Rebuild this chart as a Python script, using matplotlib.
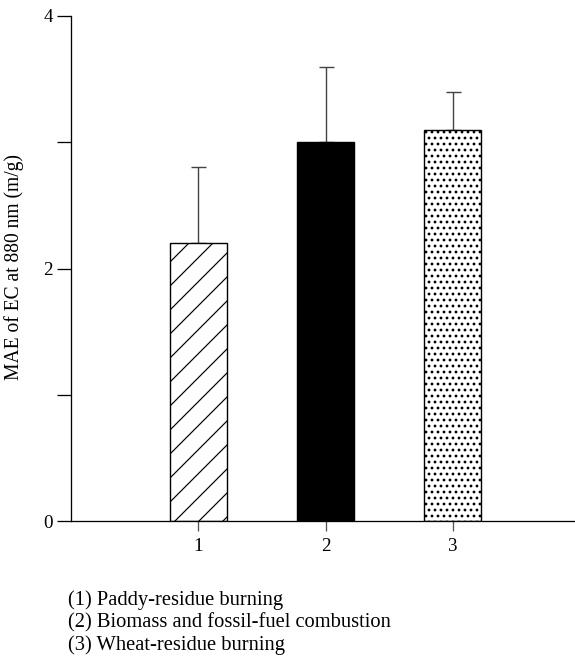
import matplotlib
matplotlib.use("Agg")
import matplotlib.pyplot as plt

categories = [1, 2, 3]
values = [2.2, 3.0, 3.1]
errors_up = [0.6, 0.6, 0.3]
hatches = ["/", None, ".."]
hatch_lw = [1.2, 1.0, 1.6]
facecolors = ["white", "black", "white"]
yticks = [0, 1, 2, 3, 4]
yticklabels = ["0", "", "2", "", "4"]
legend_lines = ["(1) Paddy-residue burning",
                "(2) Biomass and fossil-fuel combustion",
                "(3) Wheat-residue burning"]

DPI = 72
plt.rcParams["font.family"] = ["Liberation Serif", "DejaVu Serif"]
fig = plt.figure(figsize=(575 / DPI, 671 / DPI), dpi=DPI)
ax = fig.add_axes([71 / 575, 1 - 521 / 671, 1 - 71 / 575, (521 - 16) / 671])

for x, v, e, h, hl, fc in zip(categories, values, errors_up, hatches, hatch_lw, facecolors):
    plt.rcParams["hatch.linewidth"] = hl
    ax.bar(x, v, width=0.45, color=fc, edgecolor="black", linewidth=1.4,
           hatch=h, zorder=2)
    ax.errorbar(x, v, yerr=[[0], [e]], fmt="none", ecolor="#444444",
                elinewidth=1.4, capsize=7.5, capthick=1.4, zorder=1)

ax.set_xlim(0, 3.96)
ax.set_ylim(0, 4)
ax.set_xticks(categories)
ax.set_xticklabels([str(c) for c in categories])
ax.set_yticks(yticks)
ax.set_yticklabels(yticklabels)
for s in ["top", "right"]:
    ax.spines[s].set_visible(False)
ax.spines["left"].set_linewidth(1.3)
ax.spines["bottom"].set_linewidth(1.3)
ax.tick_params(axis="y", length=14, width=1.3, labelsize=19, pad=4)
ax.tick_params(axis="x", length=10, width=1.3, color="#555555",
               labelsize=19, pad=7)
ax.set_ylabel("MAE of EC at 880 nm (m/g)", fontsize=19.5)
ax.yaxis.set_label_coords((24 - 71) / 504, 0.503)

for i, line in enumerate(legend_lines):
    fig.text(68 / 575, 1 - (600 + 22.5 * i) / 671, line, fontsize=20.5,
             va="center", ha="left")

fig.savefig("out.png", dpi=DPI)
